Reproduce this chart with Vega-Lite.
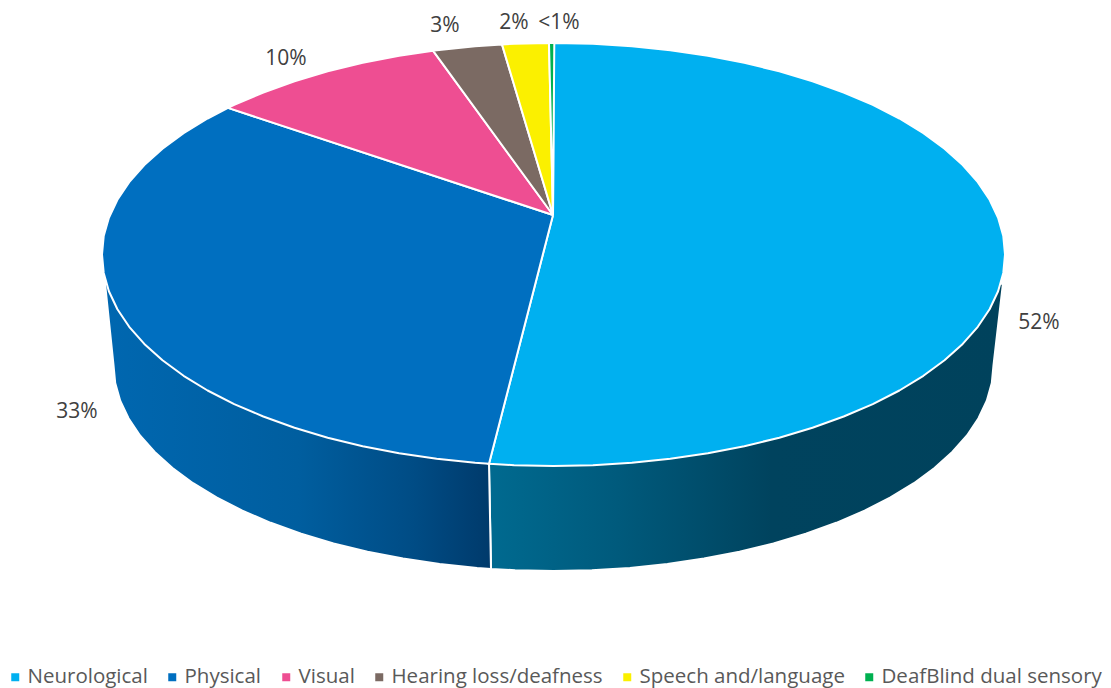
{
  "$schema": "https://vega.github.io/schema/vega-lite/v6.json",
  "width": 1111,
  "height": 688,
  "padding": 0,
  "autosize": {"type": "none"},
  "background": "white",
  "config": {"view": {"stroke": null}},
  "datasets": {
    "wallRight": [
      {"n":0,"x":1003,"y":283},{"n":1,"x":993.5,"y":365},{"n":2,"x":991.8,"y":383},{"n":3,"x":986.8,"y":400.8},{"n":4,"x":978.5,"y":418.3},{"n":5,"x":967,"y":435.5},{"n":6,"x":952.3,"y":452},{"n":7,"x":934.5,"y":468},{"n":8,"x":913.9,"y":483.2},{"n":9,"x":890.5,"y":497.4},{"n":10,"x":864.6,"y":510.7},{"n":11,"x":836.3,"y":522.8},{"n":12,"x":805.9,"y":533.7},{"n":13,"x":773.5,"y":543.4},{"n":14,"x":739.5,"y":551.7},{"n":15,"x":704,"y":558.6},{"n":16,"x":667.4,"y":564},{"n":17,"x":629.9,"y":567.9},{"n":18,"x":591.9,"y":570.2},{"n":19,"x":553.5,"y":571},{"n":20,"x":515.1,"y":570.2},{"n":21,"x":491,"y":569},{"n":22,"x":489,"y":464},{"n":23,"x":1003,"y":283}
    ],
    "wallLeft": [
      {"n":0,"x":105,"y":283},{"n":1,"x":113.5,"y":365},{"n":2,"x":115.2,"y":383},{"n":3,"x":120.2,"y":400.8},{"n":4,"x":128.5,"y":418.3},{"n":5,"x":140,"y":435.5},{"n":6,"x":154.7,"y":452},{"n":7,"x":172.5,"y":468},{"n":8,"x":193.1,"y":483.2},{"n":9,"x":216.5,"y":497.4},{"n":10,"x":242.4,"y":510.7},{"n":11,"x":270.7,"y":522.8},{"n":12,"x":301.1,"y":533.7},{"n":13,"x":333.5,"y":543.4},{"n":14,"x":367.5,"y":551.7},{"n":15,"x":403,"y":558.6},{"n":16,"x":439.6,"y":564},{"n":17,"x":477.1,"y":567.9},{"n":18,"x":491,"y":569},{"n":19,"x":489,"y":464},{"n":20,"x":105,"y":283}
    ],
    "faces": [
      {"slice":"Neurological","n":0,"x":553,"y":215},{"slice":"Neurological","n":1,"x":553.5,"y":43},{"slice":"Neurological","n":2,"x":592.9,"y":43.8},{"slice":"Neurological","n":3,"x":631.9,"y":46.2},{"slice":"Neurological","n":4,"x":670.3,"y":50.2},{"slice":"Neurological","n":5,"x":707.9,"y":55.8},{"slice":"Neurological","n":6,"x":744.3,"y":62.8},{"slice":"Neurological","n":7,"x":779.3,"y":71.3},{"slice":"Neurological","n":8,"x":812.5,"y":81.2},{"slice":"Neurological","n":9,"x":843.7,"y":92.5},{"slice":"Neurological","n":10,"x":872.8,"y":104.9},{"slice":"Neurological","n":11,"x":899.4,"y":118.5},{"slice":"Neurological","n":12,"x":923.4,"y":133.2},{"slice":"Neurological","n":13,"x":944.5,"y":148.7},{"slice":"Neurological","n":14,"x":962.7,"y":165.1},{"slice":"Neurological","n":15,"x":977.8,"y":182.2},{"slice":"Neurological","n":16,"x":989.6,"y":199.8},{"slice":"Neurological","n":17,"x":998.1,"y":217.8},{"slice":"Neurological","n":18,"x":1003.3,"y":236.1},{"slice":"Neurological","n":19,"x":1005,"y":254.5},{"slice":"Neurological","n":20,"x":1003.3,"y":272.9},{"slice":"Neurological","n":21,"x":998.1,"y":291.2},{"slice":"Neurological","n":22,"x":989.6,"y":309.2},{"slice":"Neurological","n":23,"x":977.8,"y":326.8},{"slice":"Neurological","n":24,"x":962.7,"y":343.9},{"slice":"Neurological","n":25,"x":944.5,"y":360.3},{"slice":"Neurological","n":26,"x":923.4,"y":375.8},{"slice":"Neurological","n":27,"x":899.4,"y":390.5},{"slice":"Neurological","n":28,"x":872.8,"y":404.1},{"slice":"Neurological","n":29,"x":843.7,"y":416.5},{"slice":"Neurological","n":30,"x":812.5,"y":427.8},{"slice":"Neurological","n":31,"x":779.3,"y":437.7},{"slice":"Neurological","n":32,"x":744.3,"y":446.2},{"slice":"Neurological","n":33,"x":707.9,"y":453.2},{"slice":"Neurological","n":34,"x":670.3,"y":458.8},{"slice":"Neurological","n":35,"x":631.9,"y":462.8},{"slice":"Neurological","n":36,"x":592.9,"y":465.2},{"slice":"Neurological","n":37,"x":553.5,"y":466},{"slice":"Neurological","n":38,"x":514.1,"y":465.2},{"slice":"Neurological","n":39,"x":489,"y":463.8},{"slice":"Neurological","n":40,"x":553,"y":215},
      {"slice":"Physical","n":0,"x":553,"y":215},{"slice":"Physical","n":1,"x":489,"y":463.8},{"slice":"Physical","n":2,"x":475.1,"y":462.8},{"slice":"Physical","n":3,"x":436.7,"y":458.8},{"slice":"Physical","n":4,"x":399.1,"y":453.2},{"slice":"Physical","n":5,"x":362.7,"y":446.2},{"slice":"Physical","n":6,"x":327.7,"y":437.7},{"slice":"Physical","n":7,"x":294.5,"y":427.8},{"slice":"Physical","n":8,"x":263.3,"y":416.5},{"slice":"Physical","n":9,"x":234.2,"y":404.1},{"slice":"Physical","n":10,"x":207.6,"y":390.5},{"slice":"Physical","n":11,"x":183.6,"y":375.8},{"slice":"Physical","n":12,"x":162.5,"y":360.3},{"slice":"Physical","n":13,"x":144.3,"y":343.9},{"slice":"Physical","n":14,"x":129.2,"y":326.8},{"slice":"Physical","n":15,"x":117.4,"y":309.2},{"slice":"Physical","n":16,"x":108.9,"y":291.2},{"slice":"Physical","n":17,"x":103.7,"y":272.9},{"slice":"Physical","n":18,"x":102,"y":254.5},{"slice":"Physical","n":19,"x":103.7,"y":236.1},{"slice":"Physical","n":20,"x":108.9,"y":217.8},{"slice":"Physical","n":21,"x":117.4,"y":199.8},{"slice":"Physical","n":22,"x":129.2,"y":182.2},{"slice":"Physical","n":23,"x":144.3,"y":165.1},{"slice":"Physical","n":24,"x":162.5,"y":148.7},{"slice":"Physical","n":25,"x":183.6,"y":133.2},{"slice":"Physical","n":26,"x":207.6,"y":118.5},{"slice":"Physical","n":27,"x":228,"y":107.9},{"slice":"Physical","n":28,"x":553,"y":215},
      {"slice":"Visual","n":0,"x":553,"y":215},{"slice":"Visual","n":1,"x":228,"y":107.9},{"slice":"Visual","n":2,"x":234.2,"y":104.9},{"slice":"Visual","n":3,"x":263.3,"y":92.5},{"slice":"Visual","n":4,"x":294.5,"y":81.2},{"slice":"Visual","n":5,"x":327.7,"y":71.3},{"slice":"Visual","n":6,"x":362.7,"y":62.8},{"slice":"Visual","n":7,"x":399.1,"y":55.8},{"slice":"Visual","n":8,"x":433,"y":50.7},{"slice":"Visual","n":9,"x":553,"y":215},
      {"slice":"Hearing loss/deafness","n":0,"x":553,"y":215},{"slice":"Hearing loss/deafness","n":1,"x":433,"y":50.7},{"slice":"Hearing loss/deafness","n":2,"x":436.7,"y":50.2},{"slice":"Hearing loss/deafness","n":3,"x":475.1,"y":46.2},{"slice":"Hearing loss/deafness","n":4,"x":502,"y":44.4},{"slice":"Hearing loss/deafness","n":5,"x":553,"y":215},
      {"slice":"Speech and/language","n":0,"x":553,"y":215},{"slice":"Speech and/language","n":1,"x":502,"y":44.4},{"slice":"Speech and/language","n":2,"x":514.1,"y":43.8},{"slice":"Speech and/language","n":3,"x":549,"y":43},{"slice":"Speech and/language","n":4,"x":553,"y":215},
      {"slice":"DeafBlind dual sensory","n":0,"x":553,"y":215},{"slice":"DeafBlind dual sensory","n":1,"x":549,"y":43},{"slice":"DeafBlind dual sensory","n":2,"x":554.3,"y":43},{"slice":"DeafBlind dual sensory","n":3,"x":553,"y":215}
    ],
    "labels": [
      {"label":"52%","x":1039,"y":323},
      {"label":"33%","x":77,"y":412},
      {"label":"10%","x":286,"y":59},
      {"label":"3%","x":445,"y":26},
      {"label":"2%","x":514,"y":23},
      {"label":"<1%","x":559,"y":23}
    ]
  },
  "encoding": {
    "x": {"field": "x", "type": "quantitative", "axis": null, "scale": {"domain": [0, 1111], "nice": false, "zero": false}},
    "y": {"field": "y", "type": "quantitative", "axis": null, "scale": {"domain": [688, 0], "nice": false, "zero": false}}
  },
  "layer": [
    {
      "data": {"name": "wallRight"},
      "mark": {
        "type": "line",
        "stroke": "white",
        "strokeWidth": 2,
        "fill": {"gradient": "linear", "x1": 0, "y1": 0, "x2": 1, "y2": 0, "stops": [
          {"offset": 0, "color": "#006a90"},
          {"offset": 0.25, "color": "#005a7c"},
          {"offset": 0.55, "color": "#00435e"},
          {"offset": 1, "color": "#00425c"}
        ]}
      },
      "encoding": {"order": {"field": "n", "type": "quantitative"}}
    },
    {
      "data": {"name": "wallLeft"},
      "mark": {
        "type": "line",
        "stroke": "white",
        "strokeWidth": 2,
        "fill": {"gradient": "linear", "x1": 0, "y1": 0, "x2": 1, "y2": 0, "stops": [
          {"offset": 0, "color": "#0067b0"},
          {"offset": 0.5, "color": "#005e9f"},
          {"offset": 0.8, "color": "#004c85"},
          {"offset": 1, "color": "#003a6b"}
        ]}
      },
      "encoding": {"order": {"field": "n", "type": "quantitative"}}
    },
    {
      "data": {"name": "faces"},
      "mark": {"type": "line", "stroke": "white", "strokeWidth": 2, "strokeJoin": "round"},
      "encoding": {
        "order": {"field": "n", "type": "quantitative"},
        "fill": {
          "field": "slice",
          "type": "nominal",
          "sort": null,
          "scale": {
            "domain": ["Neurological", "Physical", "Visual", "Hearing loss/deafness", "Speech and/language", "DeafBlind dual sensory"],
            "range": ["#00B0F0", "#006FC0", "#EE4E92", "#7B6A63", "#FBF000", "#00B050"]
          },
          "legend": {
            "orient": "none",
            "legendX": 5,
            "legendY": 667,
            "title": null,
            "direction": "horizontal",
            "columns": 6,
            "gridAlign": "none",
            "columnPadding": 14,
            "symbolType": "square",
            "symbolSize": 64,
            "symbolStrokeWidth": 0,
            "labelFont": "Open Sans",
            "labelFontSize": 20.5,
            "labelLimit": 400,
            "labelColor": "#595959",
            "labelOffset": 2
          }
        }
      }
    },
    {
      "data": {"name": "labels"},
      "mark": {"type": "text", "font": "Open Sans", "fontSize": 21, "color": "#404040", "align": "center", "baseline": "middle"},
      "encoding": {"text": {"field": "label"}}
    }
  ]
}
